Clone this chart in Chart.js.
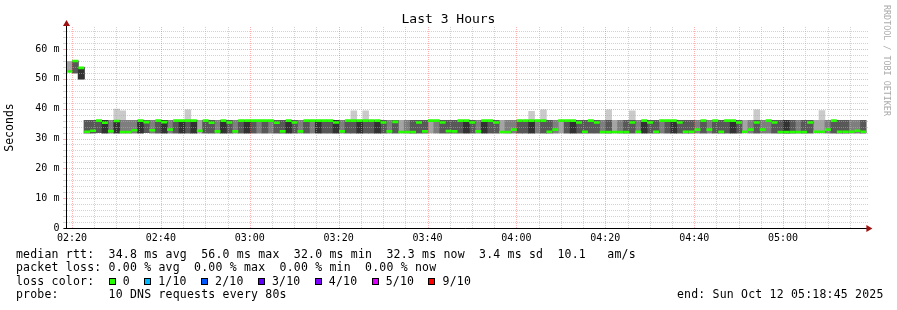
<!DOCTYPE html>
<html><head><meta charset="utf-8">
<script src="https://cdn.jsdelivr.net/npm/chart.js@4.4.0/dist/chart.umd.min.js"></script>
<style>
html,body{margin:0;padding:0;background:#fff;}
#wrap{position:relative;width:897px;height:310px;overflow:hidden;font-family:'DejaVu Sans Mono',monospace;color:#000;}
#c{position:absolute;left:0;top:0;}
.t{position:absolute;white-space:pre;}
#title{left:0;width:897px;text-align:center;top:11px;font-size:13px;line-height:16px;}
#legend{left:16px;top:247.5px;font-size:11.5px;line-height:13.6px;letter-spacing:0.2px;}
#end{left:677px;top:288.3px;font-size:11.5px;line-height:13.6px;letter-spacing:0.2px;}
#wm{left:883px;top:5px;writing-mode:vertical-rl;font-size:8.4px;line-height:8px;color:#aaaaaa;}
.box{display:inline-block;width:7px;height:7px;box-sizing:border-box;border:1px solid #000;vertical-align:baseline;}
</style></head>
<body>
<div id="wrap">
<canvas id="c" width="897" height="310"></canvas>
<div class="t" id="title">Last 3 Hours</div>
<div class="t" id="legend"></div>
<div class="t" id="end"></div>
<div class="t" id="wm">RRDTOOL / TOBI OETIKER</div>
</div>
<script>
// ---- data ----
const startClock = '02:18:45';
const endLabel = 'end: Sun Oct 12 05:18:45 2025';
const stepSec = 80;

const medianRtt = [
 52.5,56.0,53.7,32.3,32.6,36.0,35.3,32.5,35.9,32.2,
 32.2,32.8,36.0,35.5,32.8,36.0,35.5,33.0,36.0,36.0,
 36.0,36.0,32.6,36.0,35.3,32.4,36.0,35.4,32.4,36.0,
 36.0,36.0,36.0,36.0,36.0,35.3,32.4,36.0,35.4,32.4,
 36.0,36.0,36.0,36.0,36.0,35.4,32.4,36.0,36.0,36.0,
 36.0,36.0,36.0,35.4,32.4,35.6,32.2,32.2,32.2,35.4,
 32.4,36.0,36.0,35.4,32.5,32.4,36.0,36.0,35.4,32.4,
 36.0,36.0,35.4,32.2,32.2,33.0,36.0,36.0,36.0,36.0,
 36.0,32.3,33.0,36.0,36.0,36.0,35.4,32.3,36.0,35.4,
 32.2,32.2,32.2,32.2,32.2,35.4,32.3,36.0,35.4,32.3,
 36.0,36.0,36.0,35.4,32.3,32.3,33.0,36.0,33.0,36.0,
 32.3,36.0,36.0,35.4,32.3,33.0,35.4,33.0,36.0,35.4,
 32.2,32.2,32.2,32.2,32.2,35.4,32.3,32.3,33.0,36.0,
 32.3,32.3,32.3,32.6,32.3];

// lowest ping per step
const pingLow = [
 52.5,52.0,50.0,31.9,31.9,32.0,31.9,31.9,31.9,31.9,
 31.9,31.9,31.9,32.0,31.9,31.9,31.9,31.9,31.9,31.9,
 31.9,31.9,31.9,31.9,31.9,31.9,31.9,31.9,31.9,31.9,
 31.9,31.9,31.9,31.9,31.9,31.9,31.9,31.9,31.9,31.9,
 31.9,31.9,31.9,31.9,31.9,31.9,31.9,31.9,31.9,31.9,
 31.9,31.9,31.9,31.9,31.9,31.9,31.9,31.9,31.9,31.9,
 31.9,31.9,31.9,31.9,31.9,31.9,31.9,31.9,31.9,31.9,
 31.9,31.9,31.9,31.9,31.9,31.9,31.9,31.9,31.9,31.9,
 31.9,31.9,31.9,31.9,31.9,31.9,31.9,31.9,31.9,31.9,
 31.9,31.9,31.9,31.9,31.9,31.9,31.9,31.9,31.9,31.9,
 31.9,31.9,31.9,31.9,31.9,31.9,31.9,31.9,31.9,31.9,
 31.9,31.9,31.9,31.9,31.9,31.9,31.9,31.9,31.9,31.9,
 31.9,31.9,31.9,31.9,31.9,31.9,31.9,31.9,31.9,31.9,
 31.9,31.9,31.9,31.9,31.9];

// upper cluster of pings per step
const pingHigh = [
 55.8,56.0,53.8,36.1,36.1,36.1,36.1,36.1,36.1,36.1,
 36.1,36.1,36.1,36.1,36.1,36.1,36.1,36.1,36.1,36.1,
 36.1,36.1,36.1,36.1,36.1,36.1,36.1,36.1,36.1,36.1,
 36.1,36.1,36.1,36.1,36.1,36.1,36.1,36.1,36.1,36.1,
 36.1,36.1,36.1,36.1,36.1,36.1,36.1,36.1,36.1,36.1,
 36.1,36.1,36.1,36.1,36.1,36.1,36.1,36.1,36.1,36.1,
 36.1,36.1,36.1,36.1,36.1,36.1,36.1,36.1,36.1,36.1,
 36.1,36.1,36.1,36.1,36.1,36.1,36.1,36.1,36.1,36.1,
 36.1,36.1,36.1,36.1,36.1,36.1,36.1,36.1,36.1,36.1,
 36.1,36.1,36.1,36.1,36.1,36.1,36.1,36.1,36.1,36.1,
 36.1,36.1,36.1,36.1,36.1,36.1,36.1,36.1,36.1,36.1,
 36.1,36.1,36.1,36.1,36.1,36.1,36.1,36.1,36.1,36.1,
 36.1,36.1,36.1,36.1,36.1,36.1,36.1,36.1,36.1,36.1,
 36.1,36.1,36.1,36.1,36.1];

// how many of the 10 pings fell in the lower cluster
const lowCount = [
 8,4,5,6,6,4,5,7,5,7,
 7,7,5,4,7,4,5,7,4,5,
 4,5,8,4,4,7,5,4,7,4,
 5,4,3,4,3,4,6,5,4,7,
 4,3,5,4,4,5,7,4,4,5,
 4,4,5,4,7,4,8,7,6,4,
 6,2,3,4,6,6,4,5,4,7,
 5,4,4,8,7,7,4,4,5,3,
 4,6,7,2,4,5,4,6,4,4,
 7,6,8,7,6,4,7,5,4,6,
 3,4,5,4,6,6,7,4,7,4,
 6,4,5,4,8,7,4,7,3,4,
 6,5,6,7,6,4,8,8,7,4,
 6,6,7,7,6];

// slowest ping when it stands out above the cluster
const outlierMax = new Array(135).fill(null);
const outlierIdx = [8,9,20,48,50,78,80,91,95,116,127];
const outlierVal = [39.9,39.3,39.6,39.3,39.3,39.1,39.6,39.6,39.3,39.6,39.4];
outlierIdx.forEach((k,i)=>{ outlierMax[k] = outlierVal[i]; });

const xTickLabels = ['02:20','02:40','03:00','03:20','03:40','04:00','04:20','04:40','05:00'];
const yTickLabels = ['0','10 m','20 m','30 m','40 m','50 m','60 m'];

const rttStats = ['34.8 ms avg','56.0 ms max','32.0 ms min','32.3 ms now','3.4 ms sd','10.1   am/s'];
const lossStats = ['0.00 % avg','0.00 % max','0.00 % min','0.00 % now'];
const lossLabels = ['0','1/10','2/10','3/10','4/10','5/10','9/10'];
const lossColors = ['#26ff00','#00b8ff','#0059ff','#5e00ff','#7e00ff','#dd00ff','#ff0000'];
const probeText = '10 DNS requests every 80s';

// ---- legend text ----
(function(){
  const lg = document.getElementById('legend');
  let html = 'median rtt:  ' + rttStats.join('  ') + '\n';
  html += 'packet loss: ' + lossStats.join('  ') + '\n';
  html += 'loss color:  ' + lossLabels.map((l,i)=>'<span class="box" style="background:'+lossColors[i]+'"></span> '+l).join('  ') + '\n';
  html += 'probe:       ' + probeText;
  lg.innerHTML = html;
  document.getElementById('end').textContent = endLabel;
})();

// ---- build datasets ----
const toSec = s => { const p = s.split(':').map(Number); return p[0]*3600 + p[1]*60 + (p[2]||0); };
const start = toSec(startClock);
const span = 3*3600;
const xs = medianRtt.map((_, i) => i*stepSec + stepSec/2);
const pings = medianRtt.map((_, i) => {
  const a = [];
  for (let j = 0; j < 10; j++) a.push(j < lowCount[i] ? pingLow[i] : pingHigh[i]);
  if (outlierMax[i] != null) a[9] = outlierMax[i];
  return a;
});
const shades = ['#cacaca','#a4a4a4','#7e7e7e','#585858','#323232'];
const smokeSets = shades.map((c, layer) => ({
  type: 'bar',
  label: 'smoke' + layer,
  order: 5 - layer,
  data: pings.map((p, i) => ({x: xs[i], y: p[layer] === p[9-layer] ? null : [p[layer], p[9-layer]]})),
  backgroundColor: c,
  borderWidth: 0,
  grouped: false,
  barPercentage: 1,
  categoryPercentage: 1
}));
const halfStep = ctx => {
  const s = ctx.chart.scales && ctx.chart.scales.x;
  if (!s || !s.width) return 3;
  return (s.getPixelForValue(stepSec) - s.getPixelForValue(0)) / 2;
};
const medianSet = {
  type: 'line',
  label: 'median',
  order: 0,
  data: medianRtt.map((v, i) => ({x: xs[i], y: v})),
  showLine: false,
  pointStyle: 'line',
  pointBorderColor: '#26ff00',
  pointBackgroundColor: '#26ff00',
  pointBorderWidth: 2.6,
  pointRadius: halfStep,
  pointHoverRadius: halfStep
};

const majorX = xTickLabels.map(l => { let t = toSec(l + ':00') - start; if (t < 0) t += 86400; return t; });
const xTickValues = [];
for (let v = majorX[0]; v <= span; v += 300) xTickValues.push(v);
const majorY = yTickLabels.map(l => parseFloat(l));
const yTickValues = [];
for (let v = 0; v <= 66; v += 2) yTickValues.push(v);

const MINOR = 'rgba(175,175,175,0.55)';
const MAJOR = 'rgba(255,80,80,0.45)';
const FONT = 'DejaVu Sans Mono';

// dotted rrdtool-like grid, drawn over the smoke and under the median
function drawGrid(chart) {
  const {ctx, chartArea: a, scales: {x, y}} = chart;
  const l = Math.floor(a.left), r = Math.ceil(a.right), t = Math.floor(a.top), b = Math.floor(a.bottom);
  ctx.save();
  yTickValues.forEach(v => {
    const py = Math.round(y.getPixelForValue(v));
    if (py >= b) return;
    const major = majorY.indexOf(v) >= 0;
    ctx.fillStyle = major ? MAJOR : MINOR;
    for (let px = l + 1; px <= r; px += 2) ctx.fillRect(px, py, 1, 1);
    ctx.fillRect(l - 3, py, 3, 1);
  });
  xTickValues.forEach(v => {
    const px = Math.round(x.getPixelForValue(v));
    const major = majorX.indexOf(v) >= 0;
    ctx.fillStyle = major ? MAJOR : MINOR;
    for (let py = b - 1; py >= t; py -= 2) ctx.fillRect(px, py, 1, 1);
  });
  ctx.restore();
}

const gridPlugin = {
  id: 'dotGrid',
  beforeDatasetDraw(chart, args) {
    if (args.index === smokeSets.length) drawGrid(chart);
  }
};

const axesPlugin = {
  id: 'axesArrows',
  afterDraw(chart) {
    const {ctx, chartArea: a} = chart;
    const x0 = Math.floor(a.left) + 0.5;
    const y0 = Math.floor(a.bottom) + 0.5;
    ctx.save();
    ctx.strokeStyle = '#000';
    ctx.lineWidth = 1;
    ctx.beginPath();
    ctx.moveTo(x0, y0 + 0.5); ctx.lineTo(x0, a.top - 2);
    ctx.moveTo(a.left - 3, y0); ctx.lineTo(a.right + 2, y0);
    ctx.stroke();
    ctx.fillStyle = '#a01010';
    ctx.beginPath();
    ctx.moveTo(x0, a.top - 7); ctx.lineTo(x0 - 3.5, a.top - 1); ctx.lineTo(x0 + 3.5, a.top - 1); ctx.closePath(); ctx.fill();
    ctx.beginPath();
    ctx.moveTo(a.right + 6, y0); ctx.lineTo(a.right, y0 - 3.5); ctx.lineTo(a.right, y0 + 3.5); ctx.closePath(); ctx.fill();
    ctx.restore();
  }
};

new Chart(document.getElementById('c'), {
  type: 'bar',
  data: { datasets: [...smokeSets, medianSet] },
  plugins: [gridPlugin, axesPlugin],
  options: {
    responsive: false,
    animation: false,
    events: [],
    layout: { padding: { left: 0, right: 30.6, top: 27, bottom: 62 } },
    plugins: { legend: {display: false}, tooltip: {enabled: false}, title: {display: false} },
    scales: {
      x: {
        type: 'linear', min: 0, max: span, offset: false,
        afterBuildTicks: s => { s.ticks = xTickValues.map(v => ({value: v})); },
        afterFit: s => { s.height = 20; },
        ticks: {
          autoSkip: false, maxRotation: 0, minRotation: 0, padding: 4, color: '#000',
          font: {family: FONT, size: 10},
          callback: v => { const i = majorX.indexOf(v); return i >= 0 ? xTickLabels[i] : ''; }
        },
        grid: { display: false, offset: false, drawTicks: false },
        border: { display: false }
      },
      y: {
        type: 'linear', min: 0, max: 67.4,
        afterBuildTicks: s => { s.ticks = yTickValues.map(v => ({value: v})); },
        afterFit: s => { s.width = 66.4; },
        ticks: {
          autoSkip: false, padding: 4, color: '#000',
          font: {family: FONT, size: 10},
          callback: v => { const i = majorY.indexOf(v); return i >= 0 ? yTickLabels[i] : ''; }
        },
        grid: { display: false, drawTicks: true, tickLength: 3 },
        border: { display: false },
        title: { display: true, text: 'Seconds', color: '#000', font: {family: FONT, size: 11.5}, padding: {top: 3, bottom: 0} }
      }
    }
  }
});
</script>
</body></html>
